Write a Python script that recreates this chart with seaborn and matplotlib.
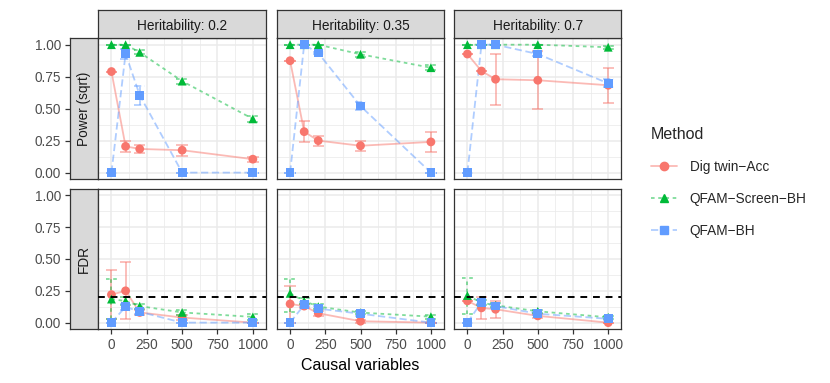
import numpy as np
import pandas as pd
import seaborn as sns
import matplotlib.pyplot as plt
from matplotlib.lines import Line2D

sns.set_theme(style="white")
plt.rcParams["font.family"] = ["Liberation Sans", "DejaVu Sans"]

# data
causal = [0, 100, 200, 500, 1000]
methods = ["Dig twin\u2212Acc", "QFAM\u2212Screen\u2212BH", "QFAM\u2212BH"]
herit = ["0.2", "0.35", "0.7"]
metrics = ["Power (sqrt)", "FDR"]

# power, heritability 0.2
pow_02_dig = [0.79, 0.205, 0.185, 0.175, 0.105]
pow_02_dig_lo = [0.79, 0.16, 0.155, 0.13, 0.085]
pow_02_dig_hi = [0.79, 0.25, 0.215, 0.215, 0.125]
pow_02_scr = [1.0, 1.0, 0.94, 0.715, 0.42]
pow_02_scr_lo = [1.0, 1.0, 0.925, 0.695, 0.395]
pow_02_scr_hi = [1.0, 1.0, 0.955, 0.735, 0.445]
pow_02_bh = [0.0, 0.93, 0.605, 0.0, 0.0]
pow_02_bh_lo = [0.0, 0.89, 0.53, 0.0, 0.0]
pow_02_bh_hi = [0.0, 0.97, 0.68, 0.0, 0.0]

# power, heritability 0.35
pow_035_dig = [0.875, 0.32, 0.25, 0.21, 0.24]
pow_035_dig_lo = [0.875, 0.24, 0.21, 0.17, 0.16]
pow_035_dig_hi = [0.875, 0.40, 0.29, 0.25, 0.32]
pow_035_scr = [1.0, 1.0, 1.0, 0.925, 0.82]
pow_035_scr_lo = [1.0, 1.0, 1.0, 0.905, 0.80]
pow_035_scr_hi = [1.0, 1.0, 1.0, 0.945, 0.84]
pow_035_bh = [0.0, 1.0, 0.935, 0.52, 0.0]
pow_035_bh_lo = [0.0, 1.0, 0.925, 0.49, 0.0]
pow_035_bh_hi = [0.0, 1.0, 0.945, 0.55, 0.0]

# power, heritability 0.7
pow_07_dig = [0.927, 0.794, 0.73, 0.722, 0.683]
pow_07_dig_lo = [0.927, 0.794, 0.526, 0.495, 0.542]
pow_07_dig_hi = [0.927, 0.794, 0.927, 0.95, 0.818]
pow_07_scr = [1.0, 1.0, 1.0, 1.0, 0.98]
pow_07_scr_lo = [1.0, 1.0, 1.0, 1.0, 0.97]
pow_07_scr_hi = [1.0, 1.0, 1.0, 1.0, 0.99]
pow_07_bh = [0.0, 1.0, 1.0, 0.927, 0.698]
pow_07_bh_lo = [0.0, 1.0, 1.0, 0.91, 0.668]
pow_07_bh_hi = [0.0, 1.0, 1.0, 0.944, 0.728]

# FDR, heritability 0.2
fdr_02_dig = [0.22, 0.25, 0.08, 0.04, 0.0]
fdr_02_dig_lo = [0.03, 0.025, 0.06, 0.02, 0.0]
fdr_02_dig_hi = [0.41, 0.475, 0.10, 0.06, 0.0]
fdr_02_scr = [0.185, 0.17, 0.13, 0.08, 0.045]
fdr_02_scr_lo = [0.03, 0.14, 0.11, 0.06, 0.02]
fdr_02_scr_hi = [0.34, 0.20, 0.15, 0.10, 0.065]
fdr_02_bh = [0.0, 0.125, 0.085, 0.0, 0.0]
fdr_02_bh_lo = [0.0, 0.10, 0.065, 0.0, 0.0]
fdr_02_bh_hi = [0.0, 0.15, 0.105, 0.0, 0.0]

# FDR, heritability 0.35
fdr_035_dig = [0.147, 0.13, 0.074, 0.011, 0.0]
fdr_035_dig_lo = [0.0, 0.115, 0.055, 0.0, 0.0]
fdr_035_dig_hi = [0.29, 0.145, 0.09, 0.022, 0.0]
fdr_035_scr = [0.23, 0.17, 0.126, 0.079, 0.047]
fdr_035_scr_lo = [0.087, 0.145, 0.108, 0.064, 0.032]
fdr_035_scr_hi = [0.344, 0.195, 0.145, 0.094, 0.062]
fdr_035_bh = [0.0, 0.14, 0.11, 0.07, 0.0]
fdr_035_bh_lo = [0.0, 0.12, 0.09, 0.055, 0.0]
fdr_035_bh_hi = [0.0, 0.16, 0.13, 0.085, 0.0]

# FDR, heritability 0.7
fdr_07_dig = [0.171, 0.116, 0.105, 0.053, 0.0]
fdr_07_dig_lo = [0.171, 0.025, 0.04, 0.035, 0.0]
fdr_07_dig_hi = [0.171, 0.20, 0.17, 0.07, 0.0]
fdr_07_scr = [0.213, 0.157, 0.136, 0.089, 0.042]
fdr_07_scr_lo = [0.07, 0.137, 0.12, 0.075, 0.03]
fdr_07_scr_hi = [0.35, 0.177, 0.152, 0.103, 0.054]
fdr_07_bh = [0.0, 0.16, 0.13, 0.07, 0.03]
fdr_07_bh_lo = [0.0, 0.145, 0.115, 0.058, 0.02]
fdr_07_bh_hi = [0.0, 0.175, 0.145, 0.082, 0.04]

fdr_target = 0.2

series = {
    ("Power (sqrt)", "0.2"): [(pow_02_dig, pow_02_dig_lo, pow_02_dig_hi),
                              (pow_02_scr, pow_02_scr_lo, pow_02_scr_hi),
                              (pow_02_bh, pow_02_bh_lo, pow_02_bh_hi)],
    ("Power (sqrt)", "0.35"): [(pow_035_dig, pow_035_dig_lo, pow_035_dig_hi),
                               (pow_035_scr, pow_035_scr_lo, pow_035_scr_hi),
                               (pow_035_bh, pow_035_bh_lo, pow_035_bh_hi)],
    ("Power (sqrt)", "0.7"): [(pow_07_dig, pow_07_dig_lo, pow_07_dig_hi),
                              (pow_07_scr, pow_07_scr_lo, pow_07_scr_hi),
                              (pow_07_bh, pow_07_bh_lo, pow_07_bh_hi)],
    ("FDR", "0.2"): [(fdr_02_dig, fdr_02_dig_lo, fdr_02_dig_hi),
                     (fdr_02_scr, fdr_02_scr_lo, fdr_02_scr_hi),
                     (fdr_02_bh, fdr_02_bh_lo, fdr_02_bh_hi)],
    ("FDR", "0.35"): [(fdr_035_dig, fdr_035_dig_lo, fdr_035_dig_hi),
                      (fdr_035_scr, fdr_035_scr_lo, fdr_035_scr_hi),
                      (fdr_035_bh, fdr_035_bh_lo, fdr_035_bh_hi)],
    ("FDR", "0.7"): [(fdr_07_dig, fdr_07_dig_lo, fdr_07_dig_hi),
                     (fdr_07_scr, fdr_07_scr_lo, fdr_07_scr_hi),
                     (fdr_07_bh, fdr_07_bh_lo, fdr_07_bh_hi)],
}

rows = []
for (metric, h), lst in series.items():
    for m, (v, lo, hi) in zip(methods, lst):
        for i, c in enumerate(causal):
            rows.append(dict(metric=metric, herit=h, method=m, causal=c,
                             value=v[i], lo=lo[i], hi=hi[i]))
df = pd.DataFrame(rows)

palette = dict(zip(methods, ["#F8766D", "#00BA38", "#619CFF"]))
markers = dict(zip(methods, ["o", "^", "s"]))
dashes = dict(zip(methods, ["", (2, 2), (4, 2)]))
lstyles = dict(zip(methods, ["-", (0, (2, 2)), (0, (4, 2))]))

W, H = 830, 383
fig = plt.figure(figsize=(W / 100, H / 100), dpi=100)

def fr(x0, y0, x1, y1):
    # pixel box -> figure fraction
    return [x0 / W, 1 - y1 / H, (x1 - x0) / W, (y1 - y0) / H]

cols = [(98.3, 266.0), (277.0, 444.0), (454.3, 621.3)]
rows_px = [(38.3, 179.0), (189.0, 329.0)]
border = "#333333"
xlim = (-93, 1093)
ylim = (-0.05, 1.05)
ew = 40  # half width of error bar caps
fs = 9.8

for r, metric in enumerate(metrics):
    y0, y1 = rows_px[r]
    # left strip carries the y axis
    sax = fig.add_axes(fr(69.7, y0, 98.3, y1))
    sax.set_facecolor("#D9D9D9")
    sax.set_ylim(ylim)
    sax.set_xticks([])
    sax.set_yticks([0, 0.25, 0.5, 0.75, 1.0])
    sax.set_yticklabels(["0.00", "0.25", "0.50", "0.75", "1.00"])
    sax.tick_params(axis="y", length=3.8, width=0.9, color=border, pad=2.5,
                    labelsize=fs, labelcolor="#4D4D4D", left=True)
    for sp in sax.spines.values():
        sp.set_color(border)
        sp.set_linewidth(0.9)
    sax.text(0.5, 0.5, metric, rotation=90, ha="center", va="center",
             transform=sax.transAxes, fontsize=fs, color="#1A1A1A")

    for c, h in enumerate(herit):
        x0, x1 = cols[c]
        ax = fig.add_axes(fr(x0, y0, x1, y1))
        sub = df[(df.metric == metric) & (df.herit == h)]

        sns.lineplot(data=sub, x="causal", y="value", hue="method", style="method",
                     hue_order=methods, style_order=methods, palette=palette,
                     dashes=dashes, markers=False, alpha=0.5, lw=1.3,
                     legend=False, ax=ax, zorder=2)
        for m in methods:
            s = sub[sub.method == m]
            kw = dict(colors=palette[m], alpha=0.5, linestyles=lstyles[m], lw=1.3, zorder=2)
            ax.vlines(s.causal, s.lo, s.hi, **kw)
            ax.hlines(s.lo, s.causal - ew, s.causal + ew, **kw)
            ax.hlines(s.hi, s.causal - ew, s.causal + ew, **kw)
        sns.scatterplot(data=sub, x="causal", y="value", hue="method", style="method",
                        hue_order=methods, style_order=methods, palette=palette,
                        markers=markers, s=40, linewidth=0, legend=False, ax=ax,
                        zorder=3)
        if metric == "FDR":
            ax.axhline(fdr_target, color="black", lw=1.4, ls=(0, (3.5, 3)), zorder=4)

        ax.set_xlim(xlim)
        ax.set_ylim(ylim)
        ax.set_xticks([0, 250, 500, 750, 1000])
        ax.set_xticks([125, 375, 625, 875], minor=True)
        ax.set_yticks([0, 0.25, 0.5, 0.75, 1.0])
        ax.set_yticks([0.125, 0.375, 0.625, 0.875], minor=True)
        ax.grid(which="major", color="#EBEBEB", lw=1.1)
        ax.grid(which="minor", color="#EBEBEB", lw=0.55)
        ax.set_axisbelow(True)
        ax.set_xlabel("")
        ax.set_ylabel("")
        ax.tick_params(axis="y", which="both", left=False, labelleft=False)
        ax.tick_params(axis="x", which="minor", bottom=False)
        if r == 1:
            ax.tick_params(axis="x", which="major", bottom=True, length=3.8, width=0.9,
                           color=border, pad=2.5, labelsize=fs, labelcolor="#4D4D4D")
        else:
            ax.tick_params(axis="x", which="major", bottom=False, labelbottom=False)
        for sp in ax.spines.values():
            sp.set_color(border)
            sp.set_linewidth(0.9)

        if r == 0:
            tax = fig.add_axes(fr(x0, 10, x1, 38.3))
            tax.set_facecolor("#D9D9D9")
            tax.set_xticks([])
            tax.set_yticks([])
            for sp in tax.spines.values():
                sp.set_color(border)
                sp.set_linewidth(0.9)
            tax.text(0.5, 0.45, "Heritability: " + h, ha="center", va="center",
                     transform=tax.transAxes, fontsize=fs, color="#1A1A1A")

fig.text(359.8 / W, 1 - 366 / H, "Causal variables", ha="center", va="center",
         fontsize=11.5, color="black")

handles = []
for m in methods:
    col = palette[m]
    rgba = plt.matplotlib.colors.to_rgba(col, 0.5)
    handles.append(Line2D([0], [0], color=rgba, lw=1.3, ls=lstyles[m],
                          marker=markers[m], markersize=6,
                          markerfacecolor=col, markeredgecolor=col))
leg = fig.legend(handles, methods, title="Method", loc="upper left",
                 bbox_to_anchor=(651 / W, 1 - 127 / H), frameon=False,
                 fontsize=fs, title_fontsize=11.5, labelspacing=1.32,
                 handlelength=1.9, handletextpad=0.95, borderpad=0,
                 borderaxespad=0)
leg._legend_box.align = "left"

fig.savefig("out.png", dpi=100)
